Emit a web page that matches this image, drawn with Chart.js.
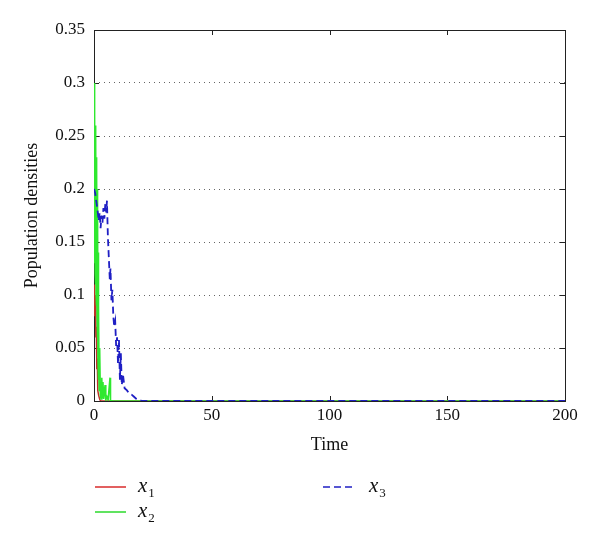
<!DOCTYPE html>
<html>
<head>
<meta charset="utf-8">
<script src="https://cdn.jsdelivr.net/npm/chart.js@4"></script>
<style>
    html, body { margin: 0; padding: 0; background: #fff; }
    #wrap { position: relative; width: 600px; height: 545px; }
    canvas { position: absolute; left: 0; top: 0; }
    .key { position: absolute; font-family: 'Liberation Serif', 'Times New Roman', serif; font-size: 21px; line-height: 1; color: #111; white-space: nowrap; }
    .key i { font-style: italic; }
    .key sub { font-size: 13px; font-style: normal; vertical-align: -5px; margin-left: 1px; }
    .swatch { position: absolute; }
</style>
</head>
<body>
<div id="wrap">
    <canvas id="chart" width="600" height="545"></canvas>

    <svg class="swatch" style="left:95px;top:482px" width="32" height="10"><line x1="0" y1="5" x2="31" y2="5" stroke="#d92b2b" stroke-width="1.5"/></svg>
    <div class="key" style="left:138px;top:475px"><i>x</i><sub>1</sub></div>

    <svg class="swatch" style="left:95px;top:507px" width="32" height="10"><line x1="0" y1="5" x2="31" y2="5" stroke="#4fe04f" stroke-width="1.8"/></svg>
    <div class="key" style="left:138px;top:500px"><i>x</i><sub>2</sub></div>

    <svg class="swatch" style="left:323px;top:482px" width="34" height="10"><line x1="0" y1="5" x2="33" y2="5" stroke="#1f1fc4" stroke-width="1.5" stroke-dasharray="7,4"/></svg>
    <div class="key" style="left:369px;top:475px"><i>x</i><sub>3</sub></div>
</div>

<script>
// values
const timeX1 = [0, 0.2, 0.4, 0.6, 0.8, 1.0, 1.2, 1.4, 1.6, 2.0, 2.5, 3, 200];
const valuesX1 = [0.09, 0.11, 0.08, 0.10, 0.06, 0.07, 0.03, 0.04, 0.01, 0.005, 0.001, 0, 0];

const timeX2 = [0, 0.1, 0.2, 0.3, 0.4, 0.5, 0.6, 0.7, 0.8, 0.9, 1.0, 1.1, 1.2, 1.3, 1.4, 1.5, 1.6, 1.7, 1.8, 1.9, 2.0, 2.2, 2.4, 2.7, 3.0,
    3.3, 3.5, 3.8, 4.1, 4.7, 5.0, 5.5, 6.0, 6.8, 7.0, 8, 200];
const valuesX2 = [0.30, 0.15, 0.29, 0.13, 0.27, 0.12, 0.26, 0.11, 0.25, 0.10, 0.23, 0.09, 0.22, 0.08, 0.20, 0.06, 0.18, 0.04, 0.14, 0.02, 0.09, 0.01, 0.05, 0.005, 0.002,
    0.022, 0.003, 0.018, 0.002, 0.015, 0.001, 0.004, 0.001, 0.022, 0.0005, 0, 0];

const timeX3 = [0, 0.5, 1.0, 1.5, 2.0, 2.4, 2.8, 3.2, 3.6, 4.0, 4.4, 4.8, 5.2, 5.5, 5.9, 6.3, 6.7, 7.0, 7.4, 7.8,
    8.2, 8.6, 9.0, 9.4, 9.8, 10.2, 10.6, 11.0, 11.4, 11.8, 12.3, 13, 14, 15, 16, 17, 18, 19, 20.4, 200];
const valuesX3 = [0.200, 0.196, 0.188, 0.180, 0.170, 0.178, 0.163, 0.175, 0.168, 0.182, 0.172, 0.186, 0.178, 0.189, 0.155, 0.135, 0.115, 0.125, 0.095, 0.105,
    0.080, 0.070, 0.075, 0.052, 0.060, 0.035, 0.058, 0.020, 0.045, 0.015, 0.025, 0.012, 0.010, 0.007, 0.006, 0.004, 0.002, 0.001, 0, 0];

const xTickStep = 50;
const yTickStep = 0.05;

const serif = "'Liberation Serif', 'Times New Roman', serif";

function toPoints(times, values) {
    return times.map((t, i) => ({ x: t, y: values[i] }));
}

// MATLAB style box with inward ticks
const frame = {
    id: 'frame',
    beforeDatasetsDraw(chart) {
        const { ctx, chartArea: a, scales: { x, y } } = chart;
        ctx.save();
        ctx.strokeStyle = '#222';
        ctx.lineWidth = 1;
        ctx.strokeRect(a.left + 0.5, a.top + 0.5, a.right - a.left, a.bottom - a.top);
        ctx.beginPath();
        x.ticks.forEach(t => {
            const p = Math.round(x.getPixelForValue(t.value)) + 0.5;
            ctx.moveTo(p, a.bottom); ctx.lineTo(p, a.bottom - 5);
            ctx.moveTo(p, a.top); ctx.lineTo(p, a.top + 5);
        });
        y.ticks.forEach(t => {
            const p = Math.round(y.getPixelForValue(t.value)) + 0.5;
            ctx.moveTo(a.left, p); ctx.lineTo(a.left + 5, p);
            ctx.moveTo(a.right, p); ctx.lineTo(a.right - 5, p);
        });
        ctx.stroke();
        ctx.restore();
    }
};

new Chart(document.getElementById('chart'), {
    type: 'line',
    data: {
        datasets: [
            {
                label: 'x3',
                data: toPoints(timeX3, valuesX3),
                borderColor: '#1f1fc4',
                borderWidth: 1.8,
                borderDash: [7, 4],
                order: 0
            },
            {
                label: 'x2',
                data: toPoints(timeX2, valuesX2),
                borderColor: '#2fe82f',
                borderWidth: 1.6,
                order: 1
            },
            {
                label: 'x1',
                data: toPoints(timeX1, valuesX1),
                borderColor: '#c0302a',
                borderWidth: 1.5,
                order: 2
            }
        ]
    },
    options: {
        responsive: false,
        animation: false,
        elements: { point: { radius: 0 }, line: { tension: 0 } },
        layout: { padding: { top: 30, right: 35, bottom: 0, left: 0 } },
        plugins: { legend: { display: false }, tooltip: { enabled: false } },
        scales: {
            x: {
                type: 'linear',
                min: 0,
                max: 200,
                ticks: { stepSize: xTickStep, padding: 4, color: '#111', font: { family: serif, size: 17 } },
                grid: { display: false, drawTicks: false },
                border: { display: false },
                title: { display: true, text: 'Time', color: '#111', font: { family: serif, size: 18 }, padding: { top: 0, bottom: 89 } },
                afterFit: s => { s.height = 144; }
            },
            y: {
                type: 'linear',
                min: 0,
                max: 0.35,
                ticks: {
                    stepSize: yTickStep,
                    padding: 9,
                    color: '#111',
                    font: { family: serif, size: 17 },
                    callback: v => String(+v.toFixed(2))
                },
                grid: { color: '#666', lineWidth: 1, drawTicks: false },
                border: { display: false, dash: [1, 4] },
                title: { display: true, text: 'Population densities', color: '#111', font: { family: serif, size: 18 }, padding: { top: 21, bottom: 0 } },
                afterFit: s => { s.width = 94; }
            }
        }
    },
    plugins: [frame]
});
</script>
</body>
</html>
